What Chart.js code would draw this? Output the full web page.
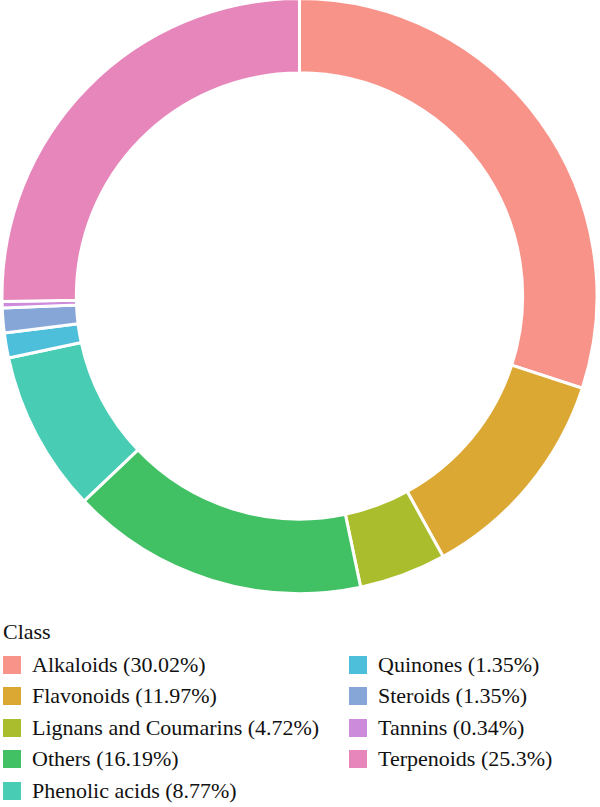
<!DOCTYPE html>
<html>
<head>
<meta charset="utf-8">
<script src="https://cdn.jsdelivr.net/npm/chart.js@4"></script>
<style>
  body { margin: 0; background: #fff; width: 600px; height: 807px; overflow: hidden; position: relative; }
  #chartBox { position: absolute; left: 0; top: -3px; width: 599px; height: 598px; }
  #legend { position: absolute; left: 0; top: 0; font-family: "Liberation Serif", "DejaVu Serif", serif; font-size: 22px; color: #111; }
  .legend-title { position: absolute; left: 3px; top: 619px; line-height: 26px; white-space: nowrap; }
  .legend-item { position: absolute; height: 26px; line-height: 26px; white-space: nowrap; }
  .legend-item .box { position: absolute; left: 0; top: 4px; width: 18px; height: 18px; }
  .legend-item .txt { position: absolute; top: 0; white-space: nowrap; }
</style>
</head>
<body>
<div id="chartBox"><canvas id="classChart"></canvas></div>
<div id="legend"></div>
<script>
// categories and shares (%)
const classes = ['Alkaloids', 'Flavonoids', 'Lignans and Coumarins', 'Others', 'Phenolic acids',
                 'Quinones', 'Steroids', 'Tannins', 'Terpenoids'];
const shares = [30.02, 11.97, 4.72, 16.19, 8.77, 1.35, 1.35, 0.34, 25.3];
const shareLabels = ['30.02%', '11.97%', '4.72%', '16.19%', '8.77%', '1.35%', '1.35%', '0.34%', '25.3%'];
const colors = ['#F8938A', '#DCA834', '#AABD2C', '#42C164', '#48CDB4',
                '#4EBFDB', '#86A6D8', '#CC8BDB', '#E686BA'];

document.addEventListener('DOMContentLoaded', function() {

    // --- donut ---
    const ctx = document.getElementById('classChart').getContext('2d');
    new Chart(ctx, {
        type: 'doughnut',
        data: {
            labels: classes,
            datasets: [{
                data: shares,
                backgroundColor: colors,
                borderColor: '#ffffff',
                borderWidth: 3
            }]
        },
        options: {
            responsive: true,
            maintainAspectRatio: false,
            animation: false,
            cutout: '75%',
            layout: { padding: 0 },
            plugins: {
                legend: { display: false },
                tooltip: { enabled: false }
            }
        }
    });

    // --- legend (two columns, filled top to bottom) ---
    const legend = document.getElementById('legend');
    const title = document.createElement('div');
    title.className = 'legend-title';
    title.textContent = 'Class';
    legend.appendChild(title);

    const rowsPerCol = 5;
    const colX = [3, 349];
    const textGap = 29;
    const firstRowY = 651.5;
    const rowStep = 31.5;

    classes.forEach(function(name, i) {
        const col = Math.floor(i / rowsPerCol);
        const row = i % rowsPerCol;
        const item = document.createElement('div');
        item.className = 'legend-item';
        item.style.left = colX[col] + 'px';
        item.style.top = (firstRowY + row * rowStep) + 'px';

        const box = document.createElement('span');
        box.className = 'box';
        box.style.background = colors[i];

        const txt = document.createElement('span');
        txt.className = 'txt';
        txt.style.left = textGap + 'px';
        txt.textContent = name + ' (' + shareLabels[i] + ')';

        item.appendChild(box);
        item.appendChild(txt);
        legend.appendChild(item);
    });
});
</script>
</body>
</html>
